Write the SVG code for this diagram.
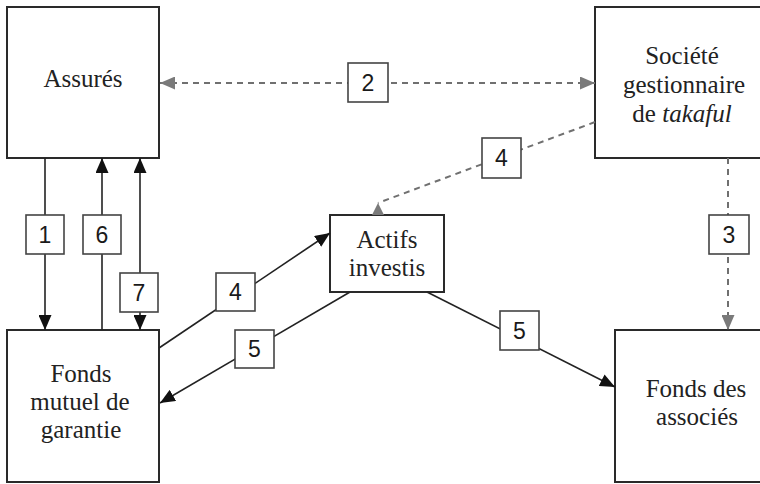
<svg xmlns="http://www.w3.org/2000/svg" width="760" height="484" viewBox="0 0 760 484">
<defs>
<style>
.node{fill:#fff;stroke:#2a2a2a;stroke-width:2}
.t{font-family:"Liberation Serif","Times New Roman",serif;font-size:25px;fill:#222;text-anchor:middle}
.lb{fill:#fff;stroke:#444;stroke-width:1.6}
.n{font-family:"Liberation Sans",Arial,sans-serif;font-size:23px;fill:#1a1a1a;text-anchor:middle}
.s{fill:none;stroke:#222;stroke-width:1.6}
.d{fill:none;stroke:#707070;stroke-width:2;stroke-dasharray:6 5}
</style>
<marker id="ab" viewBox="0 0 15 13" refX="15" refY="6.5" markerWidth="15" markerHeight="13" markerUnits="userSpaceOnUse" orient="auto-start-reverse"><path d="M0,0 L15,6.5 L0,13 z" fill="#111"/></marker>
<marker id="ag" viewBox="0 0 15 13" refX="15" refY="6.5" markerWidth="15" markerHeight="13" markerUnits="userSpaceOnUse" orient="auto-start-reverse"><path d="M0,0 L15,6.5 L0,13 z" fill="#7a7a7a"/></marker>
<marker id="agu" viewBox="0 0 12 12" refX="12" refY="6" markerWidth="12" markerHeight="12" markerUnits="userSpaceOnUse" orient="270"><path d="M0,0 L12,6 L0,12 z" fill="#7a7a7a"/></marker>
</defs>
<rect width="760" height="484" fill="#fff"/>

<g id="assures"><rect class="node" x="7" y="7" width="152" height="151"/><text class="t" x="83" y="87">Assurés</text></g>
<g id="societe"><rect class="node" x="595" y="7" width="175" height="151"/><text class="t" x="682" y="64">Société</text><text class="t" x="684" y="93">gestionnaire</text><text class="t" x="682" y="122">de <tspan font-style="italic">takaful</tspan></text></g>
<g id="actifs"><rect class="node" x="330" y="215" width="114" height="77"/><text class="t" x="387" y="248">Actifs</text><text class="t" x="387" y="276">investis</text></g>
<g id="fonds-mutuel"><rect class="node" x="7" y="330" width="152" height="152"/><text class="t" x="81" y="382">Fonds</text><text class="t" x="80" y="410">mutuel de</text><text class="t" x="81" y="438">garantie</text></g>
<g id="fonds-associes"><rect class="node" x="615" y="330" width="165" height="152"/><text class="t" x="696" y="397">Fonds des</text><text class="t" x="697" y="425">associés</text></g>

<g id="connectors">
<line class="s" x1="45" y1="158" x2="45" y2="330" marker-end="url(#ab)"/>
<line class="s" x1="102" y1="330" x2="102" y2="158" marker-end="url(#ab)"/>
<line class="s" x1="140" y1="158" x2="140" y2="330" marker-start="url(#ab)" marker-end="url(#ab)"/>
<line class="s" x1="159" y1="348" x2="330" y2="233" marker-end="url(#ab)"/>
<line class="s" x1="350" y1="292" x2="160" y2="403" marker-end="url(#ab)"/>
<line class="s" x1="427" y1="292" x2="615" y2="387" marker-end="url(#ab)"/>
<line class="d" x1="160" y1="83" x2="595" y2="83" marker-start="url(#ag)" marker-end="url(#ag)"/>
<line class="d" x1="595" y1="122" x2="378" y2="203" marker-end="url(#agu)"/>
<line class="d" x1="728" y1="158" x2="728" y2="330" marker-end="url(#ag)"/>

<rect class="lb" x="26" y="215" width="38" height="39"/><text class="n" x="45" y="243">1</text>
<rect class="lb" x="83" y="215" width="38" height="39"/><text class="n" x="102" y="243">6</text>
<rect class="lb" x="120" y="273" width="38" height="39"/><text class="n" x="139" y="301">7</text>
<rect class="lb" x="216" y="273" width="39" height="38"/><text class="n" x="235.5" y="300">4</text>
<rect class="lb" x="235" y="330" width="39" height="38"/><text class="n" x="254.5" y="357">5</text>
<rect class="lb" x="500" y="311" width="39" height="39"/><text class="n" x="519.5" y="339">5</text>
<rect class="lb" x="348" y="63" width="40" height="39"/><text class="n" x="368" y="91">2</text>
<rect class="lb" x="482" y="138" width="39" height="40"/><text class="n" x="501.5" y="166">4</text>
<rect class="lb" x="709" y="215" width="40" height="39"/><text class="n" x="729" y="243">3</text>
</g>
</svg>
